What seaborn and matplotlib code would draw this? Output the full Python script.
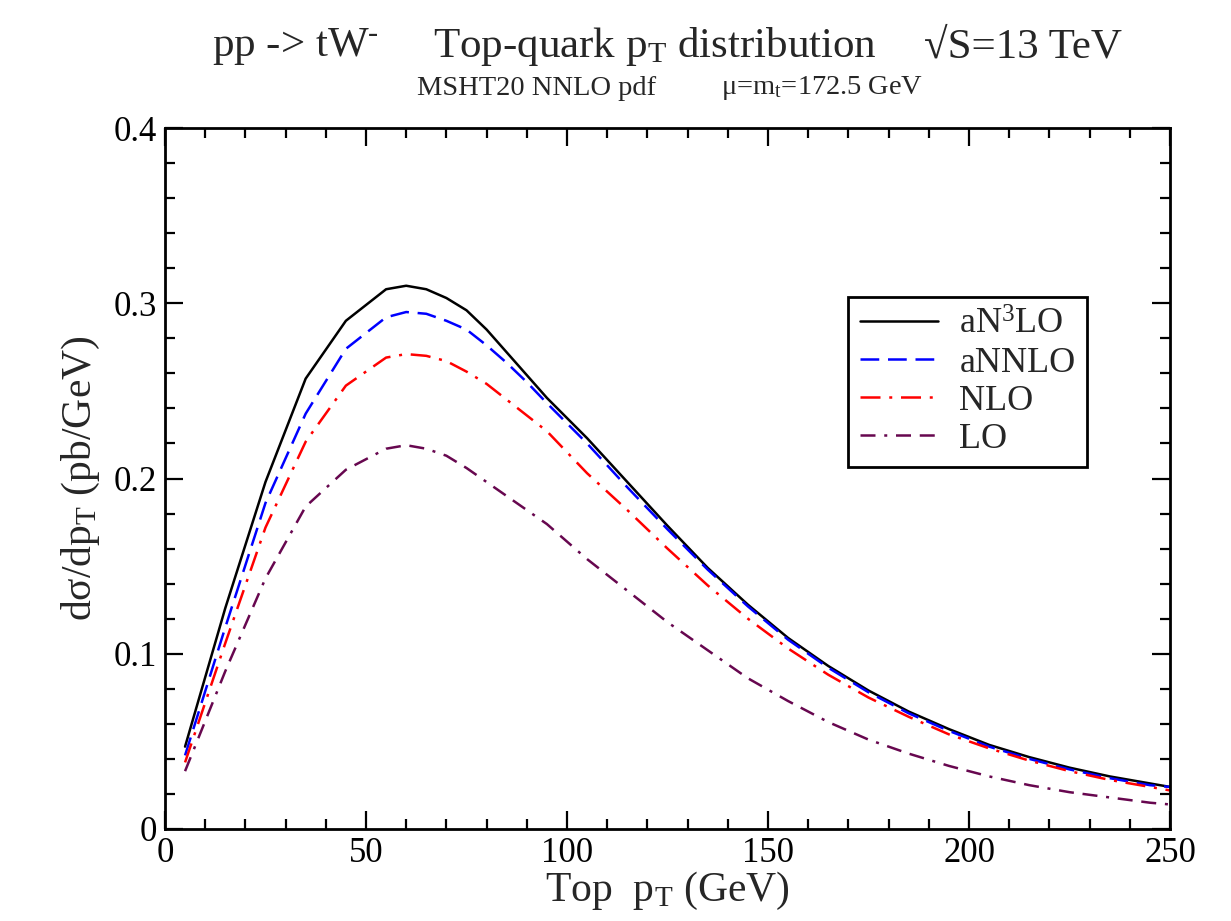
import numpy as np
import pandas as pd
import matplotlib
matplotlib.use("Agg")
import matplotlib.pyplot as plt
import seaborn as sns

# Top-quark transverse momentum (GeV)
pt = [5, 15, 25, 35, 45, 55, 60, 65, 70, 75, 80, 85, 90, 95, 105, 115, 125,
      135, 145, 155, 165, 175, 185, 195, 205, 215, 225, 235, 245, 250]

# dsigma/dpT (pb/GeV) at each perturbative order
an3lo = [0.047, 0.126, 0.198, 0.257, 0.290, 0.308, 0.310, 0.308, 0.303, 0.296,
         0.285, 0.272, 0.259, 0.246, 0.223, 0.198, 0.173, 0.149, 0.128, 0.109,
         0.093, 0.079, 0.067, 0.057, 0.048, 0.041, 0.035, 0.030, 0.026, 0.024]
annlo = [0.042, 0.115, 0.186, 0.237, 0.274, 0.292, 0.295, 0.294, 0.290, 0.285,
         0.276, 0.266, 0.255, 0.243, 0.220, 0.195, 0.171, 0.148, 0.127, 0.108,
         0.092, 0.078, 0.066, 0.056, 0.047, 0.040, 0.034, 0.029, 0.025, 0.024]
nlo = [0.038, 0.106, 0.172, 0.221, 0.253, 0.269, 0.271, 0.270, 0.267, 0.261,
       0.254, 0.245, 0.236, 0.227, 0.203, 0.182, 0.160, 0.139, 0.120, 0.103,
       0.088, 0.075, 0.064, 0.054, 0.046, 0.039, 0.033, 0.028, 0.024, 0.022]
lo = [0.033, 0.090, 0.143, 0.184, 0.205, 0.217, 0.219, 0.217, 0.213, 0.206,
      0.198, 0.190, 0.182, 0.174, 0.154, 0.136, 0.118, 0.102, 0.086, 0.073,
      0.061, 0.051, 0.043, 0.036, 0.030, 0.025, 0.021, 0.018, 0.015, 0.014]

labels = ["aN$^3$LO", "aNNLO", "NLO", "LO"]
colors = ["#000000", "#0000ff", "#ff0000", "#67074f"]
styles = ["-", (0, (7.5, 3.5)), (0, (8, 3.5, 1.2, 3.5)), (0, (6, 3.5, 1.2, 3.5, 6, 3.5))]

df = pd.DataFrame({"pt": pt * 4,
                   "xsec": an3lo + annlo + nlo + lo,
                   "order": sum([[lab] * len(pt) for lab in labels], [])})

sns.set_theme(style="ticks")
plt.rcParams["font.family"] = ["Liberation Serif", "DejaVu Serif"]
plt.rcParams["mathtext.fontset"] = "custom"
plt.rcParams["mathtext.rm"] = "Liberation Serif"
plt.rcParams["mathtext.it"] = "Liberation Serif:italic"
plt.rcParams["mathtext.default"] = "rm"

fig = plt.figure(figsize=(12.31, 9.21), dpi=100)
ax = fig.add_axes([0.134, 0.0999, 0.8165, 0.7611])

for lab, col, ls in zip(labels, colors, styles):
    sns.lineplot(data=df[df["order"] == lab], x="pt", y="xsec", color=col,
                 lw=1.8, label=lab, ax=ax, estimator=None, sort=False)
    ax.lines[-1].set_linestyle(ls)

ax.set_xlim(0, 250)
ax.set_ylim(0, 0.4)
ax.set_xticks([0, 50, 100, 150, 200, 250])
ax.set_xticklabels(["0", "50", "100", "150", "200", "250"])
ax.set_yticks([0, 0.1, 0.2, 0.3, 0.4])
ax.set_yticklabels(["0", "0.1", "0.2", "0.3", "0.4"])
ax.set_xticks(np.arange(0, 251, 10), minor=True)
ax.set_yticks(np.arange(0, 0.401, 0.02), minor=True)
ax.tick_params(which="both", direction="in", top=True, right=True,
               labelsize=25, width=1.6, color="black", labelcolor="black")
ax.tick_params(which="major", length=13, pad=6)
ax.tick_params(which="minor", length=7)
for sp in ax.spines.values():
    sp.set_linewidth(2.0)
    sp.set_color("black")

ax.set_xlabel("Top  p$_{\\mathrm{T}}$ (GeV)", fontsize=30, labelpad=0)
ax.set_ylabel("d\u03c3/dp$_{\\mathrm{T}}$ (pb/GeV)", fontsize=30, labelpad=8)

leg = ax.legend(loc="upper left", bbox_to_anchor=(0.68, 0.759), fontsize=26,
                frameon=True, fancybox=False, edgecolor="black",
                handlelength=2.15, handletextpad=0.6, labelspacing=0.13,
                borderpad=0.32, borderaxespad=0)
leg.get_frame().set_linewidth(2.0)
leg.get_frame().set_alpha(1)

# three-part heading and the pdf / scale line beneath it
fig.text(295 / 1231, 0.949, "pp -> tW$^{\\text{-}}$", ha="center", va="center", fontsize=31)
fig.text(655 / 1231, 0.949, "Top-quark p$_{\\mathrm{T}}$ distribution",
         ha="center", va="center", fontsize=31)
fig.text(1023 / 1231, 0.949, "\u221aS=13 TeV", ha="center", va="center", fontsize=31)
fig.text(537 / 1231, 0.904, "MSHT20 NNLO pdf", ha="center", va="center", fontsize=20.5)
fig.text(822 / 1231, 0.904, "\u03bc=m$_{\\mathrm{t}}$=172.5 GeV",
         ha="center", va="center", fontsize=20.5)

fig.savefig("out.png", dpi=100)
